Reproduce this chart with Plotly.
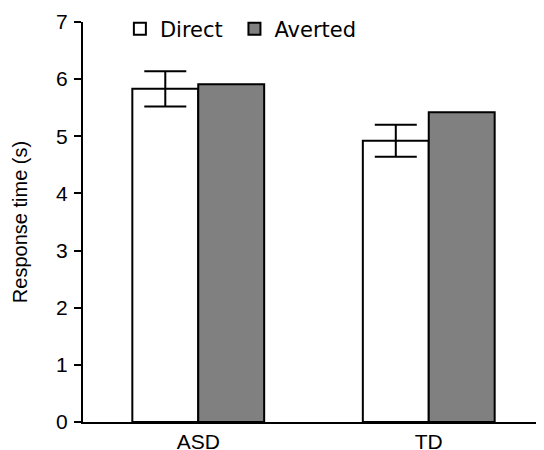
import plotly.graph_objects as go

categories = ["ASD", "TD"]
direct_values = [5.83, 4.92]
direct_errors = [0.31, 0.28]
averted_values = [5.91, 5.42]
y_ticks = [0, 1, 2, 3, 4, 5, 6, 7]

fig = go.Figure()
fig.add_trace(go.Bar(
    name="Direct\u00a0", x=categories, y=direct_values,
    marker=dict(color="white", line=dict(color="black", width=2)),
    error_y=dict(type="data", array=direct_errors, visible=True,
                 color="black", thickness=2, width=21),
))
fig.add_trace(go.Bar(
    name="Averted", x=categories, y=averted_values,
    marker=dict(color="#808080", line=dict(color="black", width=2)),
))

fig.update_layout(
    width=544, height=450,
    margin=dict(l=75, r=8, t=14, b=36, autoexpand=False),
    paper_bgcolor="white", plot_bgcolor="white",
    barmode="group", bargap=0.428, bargroupgap=0,
    font=dict(family="Liberation Sans, Arial, sans-serif", size=20, color="black"),
    showlegend=True,
    legend=dict(orientation="h", x=0.08, y=0.9825, xanchor="left", yanchor="middle",
                font=dict(family="DejaVu Sans", size=21, color="black"),
                bgcolor="rgba(0,0,0,0)", itemwidth=30, traceorder="normal"),
    xaxis=dict(showline=True, linecolor="black", linewidth=2, ticks="",
               showgrid=False, zeroline=False, range=[-0.5, 1.5],
               tickfont=dict(size=21), automargin=False),
    yaxis=dict(showline=True, linecolor="black", linewidth=2, ticks="outside",
               ticklen=7, tickwidth=2, tickcolor="black", showgrid=False,
               zeroline=False, range=[0, 7], tickvals=y_ticks,
               tickfont=dict(size=21), automargin=False, ticklabelstandoff=2,
               title=dict(text="Response time (s)", font=dict(size=20), standoff=23)),
)

fig.write_html("out.html")
